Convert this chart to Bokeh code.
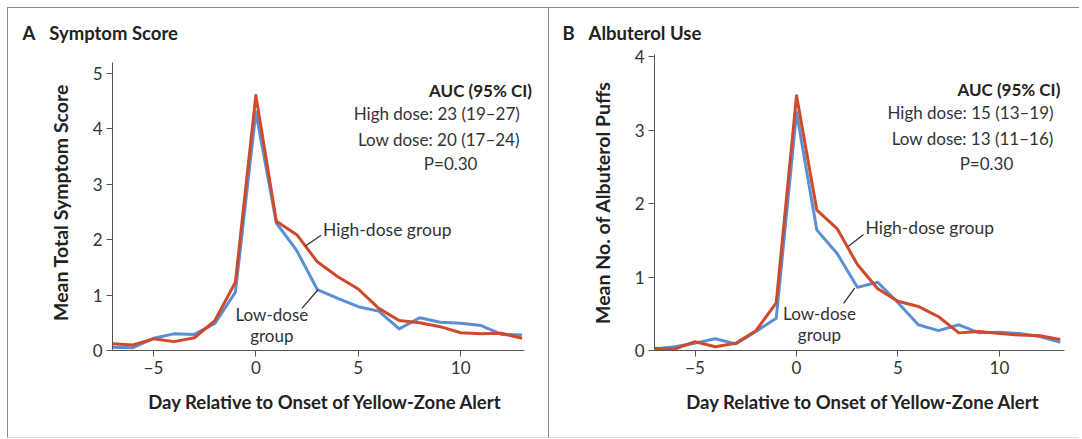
from bokeh.plotting import figure
from bokeh.layouts import row
from bokeh.models import Label, ColumnDataSource, FixedTicker, Segment
from bokeh.embed import file_html
from bokeh.resources import INLINE

# ---------------- data ----------------
days = list(range(-7, 14))

symptom_high = [0.12, 0.10, 0.21, 0.16, 0.23, 0.54, 1.23, 4.60, 2.33, 2.09, 1.60,
                1.33, 1.11, 0.76, 0.54, 0.50, 0.43, 0.32, 0.30, 0.31, 0.22]
symptom_low = [0.06, 0.05, 0.22, 0.30, 0.29, 0.49, 1.05, 4.30, 2.30, 1.80, 1.10,
               0.94, 0.79, 0.71, 0.39, 0.59, 0.51, 0.49, 0.45, 0.29, 0.28]

albuterol_high = [0.03, 0.02, 0.12, 0.05, 0.10, 0.27, 0.65, 3.47, 1.91, 1.66, 1.17,
                  0.84, 0.67, 0.60, 0.46, 0.24, 0.26, 0.23, 0.21, 0.20, 0.15]
albuterol_low = [0.02, 0.05, 0.10, 0.16, 0.09, 0.26, 0.44, 3.24, 1.64, 1.32, 0.86,
                 0.93, 0.65, 0.35, 0.27, 0.35, 0.24, 0.25, 0.23, 0.19, 0.11]

x_ticks = [-5, 0, 5, 10]
x_tick_labels = ["\u22125", "0", "5", "10"]
yA_ticks = [0, 1, 2, 3, 4, 5]
yB_ticks = [0, 1, 2, 3, 4]

panelA_title = "A\u2002\u2005Symptom Score"
panelB_title = "B\u2002\u2005Albuterol Use"
x_label = "Day Relative to Onset of Yellow-Zone Alert"
yA_label = "Mean Total Symptom Score"
yB_label = "Mean No. of Albuterol Puffs"
auc_header = "AUC (95% CI)"
aucA = ["High dose: 23 (19\u201327)", "Low dose: 20 (17\u201324)", "P=0.30"]
aucB = ["High dose: 15 (13\u201319)", "Low dose: 13 (11\u201316)", "P=0.30"]

RED = "#cf4a2b"
BLUE = "#5b8fd4"
FONT = "Lato"
BORDER = "1px solid #8a8a8a"
BORDER_LIGHT = "1px solid #dcdcdc"
H = 431


def make_panel(width, height, mleft, mright, x_view_end, x_axis_end,
               y_view_end, y_axis_end, y_ticks, ylab, title, title_offset, high, low):
    p = figure(width=width, height=height, x_range=(-7, x_view_end),
               y_range=(0, y_view_end),
               output_backend="svg", toolbar_location=None,
               min_border_left=mleft, min_border_right=mright,
               min_border_top=45, min_border_bottom=89)
    p.grid.visible = False
    p.outline_line_color = None
    src = ColumnDataSource(dict(day=days, high=high, low=low))
    p.line("day", "low", source=src, line_color=BLUE, line_width=3,
           line_join="round")
    p.line("day", "high", source=src, line_color=RED, line_width=3,
           line_join="round")
    for ax in (p.xaxis[0], p.yaxis[0]):
        ax.axis_line_color = "#555555"
        ax.major_tick_line_color = "#555555"
        ax.minor_tick_line_color = None
        ax.major_tick_out = 6
        ax.major_tick_in = 0
        ax.major_label_text_font = FONT
        ax.major_label_text_font_size = "17px"
        ax.major_label_text_color = "#333333"
        ax.major_label_standoff = 4
        ax.axis_label_text_font = FONT
        ax.axis_label_text_font_style = "bold"
        ax.axis_label_text_color = "#222222"
    p.xaxis.axis_label_text_font_size = "18.5px"
    p.yaxis.axis_label_text_font_size = "19.5px"
    p.xaxis.bounds = (-7, x_axis_end)
    p.yaxis.bounds = (0, y_axis_end)
    p.xaxis.ticker = FixedTicker(ticks=x_ticks)
    p.xaxis.major_label_overrides = dict(zip(x_ticks, x_tick_labels))
    p.yaxis.ticker = FixedTicker(ticks=y_ticks)
    p.xaxis.axis_label = x_label
    p.yaxis.axis_label = ylab
    p.xaxis.axis_label_standoff = 14
    p.yaxis.axis_label_standoff = 18
    p.title.text = title
    p.title.text_font = FONT
    p.title.text_font_size = "18.5px"
    p.title.text_font_style = "bold"
    p.title.text_color = "#222222"
    p.title.align = "left"
    p.title.offset = title_offset
    p.title.standoff = 22
    return p


pA = make_panel(542, H, 104, 12, 13.8, 13.1, 5.34, 5.2, yA_ticks, yA_label,
                panelA_title, -90, symptom_high, symptom_low)
pB = make_panel(530, H, 105, 7, 13.6, 13.2, 4.03, 4.03, yB_ticks, yB_label,
                panelB_title, -92, albuterol_high, albuterol_low)

pA.styles = {"border-top": BORDER, "border-left": BORDER, "border-right": BORDER,
             "border-bottom": BORDER_LIGHT}
pB.styles = {"border-top": BORDER, "border-bottom": BORDER_LIGHT}


def add_text(p, x, y, text, size="17px", bold=False, align="left", color="#333333"):
    p.add_layout(Label(x=x, y=y, text=text, text_font=FONT, text_font_size=size,
                       text_font_style="bold" if bold else "normal",
                       text_align=align, text_baseline="middle",
                       text_color=color))


def add_leader(p, x0, y0, x1, y1):
    s = ColumnDataSource(dict(x0=[x0], y0=[y0], x1=[x1], y1=[y1]))
    p.add_glyph(s, Segment(x0="x0", y0="y0", x1="x1", y1="y1",
                           line_color="#333333", line_width=1.3))


# Panel A annotations
add_text(pA, 13.48, 4.69, auc_header, bold=True, align="right", color="#222222")
add_text(pA, 12.89, 4.28, aucA[0], align="right")
add_text(pA, 12.89, 3.80, aucA[1], align="right")
add_text(pA, 9.51, 3.37, aucA[2], align="center")
add_text(pA, 3.28, 2.19, "High-dose group", size="17.5px")
add_text(pA, 0.78, 0.65, "Low-dose", align="center")
add_text(pA, 0.78, 0.27, "group", align="center")
add_leader(pA, 3.19, 2.08, 2.40, 1.88)
add_leader(pA, 2.25, 0.76, 3.04, 1.10)

# Panel B annotations
add_text(pB, 13.0, 3.55, auc_header, bold=True, align="right", color="#222222")
add_text(pB, 12.67, 3.24, aucB[0], align="right")
add_text(pB, 12.67, 2.88, aucB[1], align="right")
add_text(pB, 9.36, 2.55, aucB[2], align="center")
add_text(pB, 3.40, 1.67, "High-dose group", size="17.5px")
add_text(pB, 1.13, 0.505, "Low-dose", align="center")
add_text(pB, 1.13, 0.22, "group", align="center")
add_leader(pB, 3.30, 1.58, 2.56, 1.42)
add_leader(pB, 2.32, 0.64, 2.86, 0.85)

layout = row(pA, pB, spacing=0)
layout.styles = {"margin-left": "7px", "margin-top": "7px"}
open("out.html", "w").write(file_html(layout, INLINE))
